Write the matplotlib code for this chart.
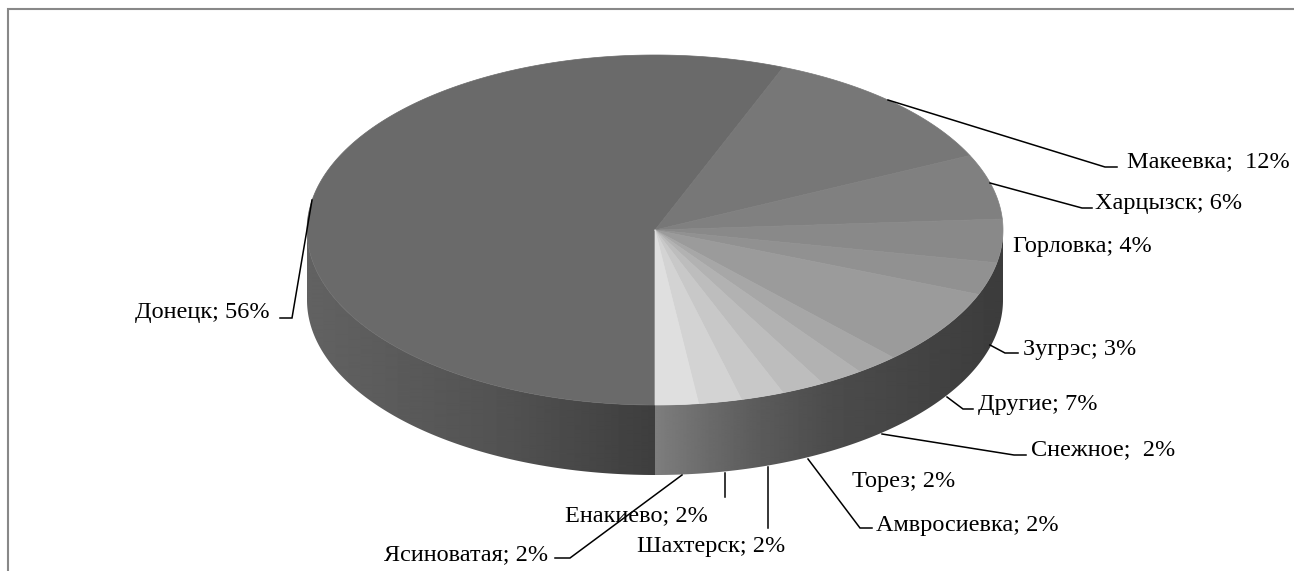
import numpy as np
import matplotlib.pyplot as plt
from matplotlib.patches import Polygon

plt.rcParams['font.family'] = ['Liberation Serif', 'DejaVu Serif']

cities = ['Донецк', 'Макеевка', 'Харцызск', 'Горловка', 'Зугрэс', 'Другие',
          'Снежное', 'Торез', 'Амвросиевка', 'Шахтерск', 'Енакиево', 'Ясиноватая']
shares = [56, 12, 6, 4, 3, 7, 2, 2, 2, 2, 2, 2]
top_grays = ['#6a6a6a', '#777777', '#808080', '#898989', '#919191', '#9b9b9b',
             '#a7a7a7', '#b2b2b2', '#bdbdbd', '#c8c8c8', '#d3d3d3', '#dfdfdf']

# label layout in pixel space: anchor x, baseline y, alignment, separator, leader polyline
label_pos = {
    'Донецк':      (270, 318, 'right', ' ', [(312, 200), (292, 318), (280, 318)]),
    'Макеевка':    (1127, 167, 'left', '  ', [(888, 100), (1105, 167), (1117, 167)]),
    'Харцызск':    (1095, 209, 'left', ' ', [(990, 183), (1082, 208), (1092, 208)]),
    'Горловка':    (1013, 252, 'left', ' ', None),
    'Зугрэс':      (1023, 355, 'left', ' ', [(990, 345), (1005, 353), (1018, 353)]),
    'Другие':      (978, 410, 'left', ' ', [(947, 397), (963, 409), (973, 409)]),
    'Снежное':     (1031, 455, 'left', '  ', [(882, 434), (1014, 455), (1026, 455)]),
    'Торез':       (852, 487, 'left', ' ', None),
    'Амвросиевка': (876, 531, 'left', ' ', [(808, 459), (860, 528), (872, 528)]),
    'Шахтерск':    (637, 552, 'left', ' ', [(768, 467), (768, 528)]),
    'Енакиево':    (708, 521, 'right', ' ', [(725, 473), (725, 497)]),
    'Ясиноватая':  (548, 560, 'right', ' ', [(682, 475), (570, 558), (555, 558)]),
}

W, H = 1294, 571
cx, cy = 655, 230
rx, ry = 348, 175
depth = 70
start = 180.0  # first slice starts at 6 o'clock, goes clockwise


def rim(theta):
    t = np.radians(theta)
    return cx + rx * np.sin(t), cy - ry * np.cos(t)


def base_gray(x, left):
    # left wall lit from the left, right wall fades from light to dark
    if left:
        return np.interp(x, [cx - rx, cx - 150, cx], [0x62, 0x52, 0x3e])
    return np.interp(x, [cx, cx + 50, cx + 100, cx + 175, cx + 250, cx + rx],
                     [0x7e, 0x6c, 0x5c, 0x4c, 0x45, 0x3c])


fig = plt.figure(figsize=(W / 100, H / 100), dpi=100)
ax = fig.add_axes([0, 0, 1, 1])

# outer frame (only left and top edges fall inside the picture)
ax.plot([7.5, 7.5, W + 5], [H + 5, 8.5, 8.5], color='#888888', lw=1.5,
        solid_joinstyle='miter', clip_on=False)

fracs = np.array(shares, dtype=float) / sum(shares)
bounds = start + 360.0 * np.concatenate([[0], np.cumsum(fracs)])

# side wall shade per pixel column; the front half maps x -> angle uniquely
cols = np.arange(W) + 0.5
shade = np.zeros(W)
for i, x in enumerate(cols):
    if x < cx:
        shade[i] = base_gray(x, True)
        continue
    s = np.clip((x - cx) / rx, -1, 1)
    th = 180.0 - np.degrees(np.arcsin(s))
    k = int(np.searchsorted(bounds, th, side='right') - 1)
    if 0 < k < len(shares):
        mid_x = rim((bounds[k] + bounds[k + 1]) / 2)[0]
        shade[i] = 0.55 * base_gray(mid_x, False) + 0.45 * base_gray(x, False)
    else:
        shade[i] = base_gray(x, False)

front = np.linspace(90, 270, 400)
tx, ty = rim(front)
wall_pts = list(zip(tx, ty)) + list(zip(tx[::-1], ty[::-1] + depth))
wall = Polygon(wall_pts, closed=True, facecolor='none', edgecolor='none')
ax.add_patch(wall)
img = ax.imshow(shade[None, :] / 255.0, cmap='gray', vmin=0, vmax=1,
                extent=(0, W, cy + ry + depth + 5, cy - 5), aspect='auto',
                interpolation='bilinear')
img.set_clip_path(wall)

# top face slices
for k in range(len(shares)):
    angs = np.linspace(bounds[k], bounds[k + 1], max(3, int(shares[k] * 12)))
    xs, ys = rim(angs)
    pts = [(cx, cy)] + list(zip(xs, ys))
    ax.add_patch(Polygon(pts, closed=True, facecolor=top_grays[k],
                         edgecolor=top_grays[k], lw=0.5, joinstyle='round'))

# data labels with leader lines
for name, val in zip(cities, shares):
    x, y, ha, sep, leader = label_pos[name]
    ax.text(x, y, f'{name};{sep}{val}%', fontsize=17.5, color='black',
            ha=ha, va='baseline')
    if leader:
        lx, ly = zip(*leader)
        ax.plot(lx, ly, color='black', lw=1.1, solid_joinstyle='miter')

ax.set_xlim(0, W)
ax.set_ylim(H, 0)
ax.axis('off')

fig.savefig('out.png', dpi=100)
